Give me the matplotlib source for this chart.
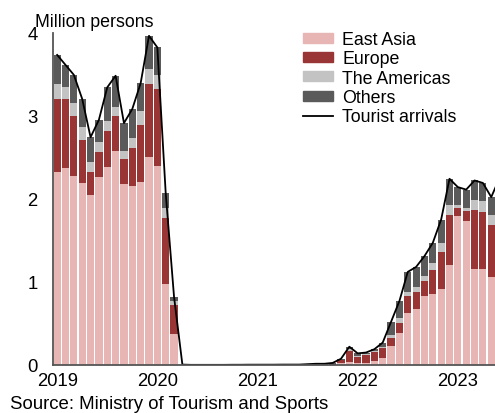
import numpy as np
import matplotlib
matplotlib.use('Agg')
import matplotlib.pyplot as plt
from matplotlib.patches import Patch
from matplotlib.lines import Line2D

plt.rcParams['font.family'] = ['Liberation Sans', 'DejaVu Sans']

# monthly data, Jan 2019 .. Jun 2023 (million persons)
east_asia = [2.32, 2.37, 2.27, 2.19, 2.04, 2.26, 2.38, 2.57, 2.18, 2.15, 2.20, 2.50,
             2.40, 0.97, 0.37, 0.0, 0.0, 0.0, 0.0, 0.0, 0.0, 0.0, 0.0, 0.0,
             0.0, 0.0, 0.0, 0.0, 0.0, 0.0, 0.0, 0.0, 0.0, 0.005, 0.02, 0.04,
             0.02, 0.03, 0.05, 0.08, 0.23, 0.39, 0.63, 0.67, 0.83, 0.86, 0.91, 1.20,
             1.79, 1.73, 1.16, 1.16, 1.06, 1.10]
europe = [0.88, 0.83, 0.72, 0.52, 0.28, 0.30, 0.43, 0.42, 0.30, 0.46, 0.69, 0.88,
          0.92, 0.80, 0.35, 0.0, 0.0, 0.0, 0.0, 0.0, 0.0, 0.0, 0.0, 0.0,
          0.0, 0.0, 0.0, 0.0, 0.0, 0.0, 0.0, 0.005, 0.005, 0.01, 0.04, 0.13,
          0.08, 0.09, 0.11, 0.12, 0.10, 0.12, 0.20, 0.21, 0.18, 0.28, 0.45, 0.60,
          0.10, 0.12, 0.71, 0.68, 0.62, 0.70]
americas = [0.18, 0.15, 0.16, 0.15, 0.12, 0.12, 0.13, 0.11, 0.09, 0.12, 0.17, 0.18,
            0.17, 0.12, 0.05, 0.0, 0.0, 0.0, 0.0, 0.0, 0.0, 0.0, 0.0, 0.0,
            0.0, 0.0, 0.0, 0.0, 0.0, 0.0, 0.0, 0.0, 0.0, 0.0, 0.005, 0.02,
            0.01, 0.01, 0.01, 0.02, 0.03, 0.05, 0.05, 0.06, 0.06, 0.09, 0.11, 0.13,
            0.04, 0.04, 0.12, 0.13, 0.12, 0.12]
others = [0.35, 0.26, 0.34, 0.34, 0.30, 0.27, 0.40, 0.38, 0.34, 0.35, 0.33, 0.40,
          0.33, 0.18, 0.05, 0.005, 0.002, 0.002, 0.002, 0.002, 0.002, 0.003, 0.003, 0.004,
          0.004, 0.004, 0.004, 0.005, 0.005, 0.005, 0.01, 0.01, 0.01, 0.01, 0.01, 0.03,
          0.03, 0.02, 0.02, 0.05, 0.16, 0.21, 0.24, 0.24, 0.24, 0.24, 0.28, 0.31,
          0.21, 0.22, 0.23, 0.22, 0.22, 0.33]
years = ['2019', '2020', '2021', '2022', '2023']

ea = np.array(east_asia)
eu = np.array(europe)
am = np.array(americas)
ot = np.array(others)
total = ea + eu + am + ot
x = np.arange(len(ea))

fig = plt.figure(figsize=(4.95, 4.14), dpi=100)
ax = fig.add_axes([53 / 495, 1 - 366 / 414, 1 - 53 / 495, (366 - 33.5) / 414])

w = 0.86
ax.bar(x, ea, w, color='#e8b5b5', linewidth=0)
ax.bar(x, eu, w, bottom=ea, color='#9a3535', linewidth=0)
ax.bar(x, am, w, bottom=ea + eu, color='#c3c3c3', linewidth=0)
ax.bar(x, ot, w, bottom=ea + eu + am, color='#5a5a5a', linewidth=0)
ax.plot(x, total, color='black', linewidth=1.3)

ax.set_xlim(-0.5, 52.45)
ax.set_ylim(0, 4)
ax.set_yticks([0, 1, 2, 3, 4])
ax.set_xticks(np.arange(0, 49, 12))
ax.set_xticklabels(years)
ax.tick_params(axis='both', length=0, labelsize=13.3)
ax.tick_params(axis='y', pad=11)
ax.tick_params(axis='x', pad=5)
for s in ['top', 'right']:
    ax.spines[s].set_visible(False)
for s in ['left', 'bottom']:
    ax.spines[s].set_color('#555555')
    ax.spines[s].set_linewidth(1.3)

handles = [Patch(color='#e8b5b5'), Patch(color='#9a3535'), Patch(color='#c3c3c3'),
           Patch(color='#5a5a5a'), Line2D([], [], color='black', linewidth=1.3)]
labels = ['East Asia', 'Europe', 'The Americas', 'Others', 'Tourist arrivals']
fig.legend(handles, labels, loc='upper left', bbox_to_anchor=(303 / 495, 1 - 32 / 414),
           frameon=False, fontsize=12.8, borderpad=0, borderaxespad=0,
           labelspacing=0.13, handlelength=1.7, handleheight=0.5, handletextpad=0.5)

fig.text(35 / 495, 1 - 27 / 414, 'Million persons', fontsize=12.8, va='baseline')
fig.text(10 / 495, 1 - 409 / 414, 'Source: Ministry of Tourism and Sports', fontsize=13.4,
         va='baseline')

fig.savefig('out.png', dpi=100)
